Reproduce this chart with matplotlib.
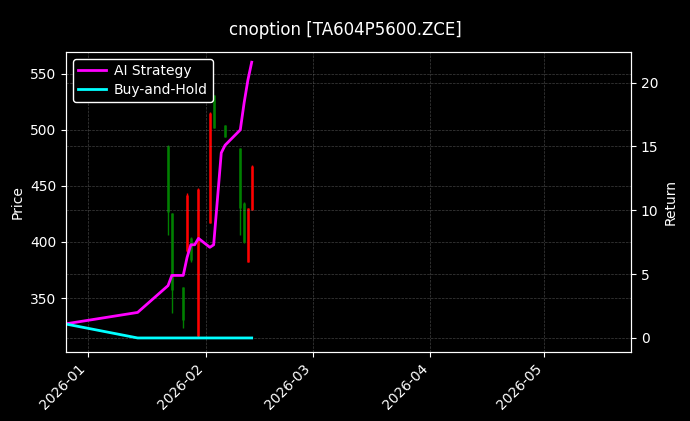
import matplotlib
matplotlib.use("Agg")
import matplotlib.pyplot as plt
import matplotlib.dates as mdates
import pandas as pd
import numpy as np

plt.style.use("dark_background")

candle_dates = ["2026-01-22","2026-01-23","2026-01-26","2026-01-27","2026-01-28","2026-01-30",
                "2026-02-02","2026-02-03","2026-02-06","2026-02-10","2026-02-11","2026-02-12","2026-02-13"]
opens  = [427, 357, 330, 442, 384, 447, 515, 502, 494, 430, 400, 430, 468]
closes = [486, 426, 360, 392, 404, 316, 417, 531, 504, 484, 435, 382, 429]
highs  = [486.6, 426, 360, 444, 404.5, 448, 516, 531, 504.5, 484, 435.7, 430, 468.8]
lows   = [406, 336.6, 323, 391, 382, 315, 417, 501.8, 493.8, 406, 399, 382, 428.6]

line_dates = ["2025-12-26","2026-01-14","2026-01-22","2026-01-23","2026-01-26","2026-01-27","2026-01-28",
              "2026-01-29","2026-01-30","2026-02-02","2026-02-03","2026-02-05","2026-02-06","2026-02-10",
              "2026-02-11","2026-02-12","2026-02-13"]
strategy = [1.1, 2.0, 4.1, 4.9, 4.9, 6.3, 7.3, 7.3, 7.8, 7.1, 7.3, 14.5, 15.1, 16.3, 18.4, 20.2, 21.6]
buyhold  = [1.1, 0, 0, 0, 0, 0, 0, 0, 0, 0, 0, 0, 0, 0, 0, 0, 0]

cd = pd.to_datetime(candle_dates)
ld = pd.to_datetime(line_dates)

fig = plt.figure(figsize=(6.9, 4.21), dpi=100, facecolor="black")
ax = fig.add_axes([66/690, 1-352/421, (631-66)/690, 300/421])
ax.set_facecolor("black")
for d, o, c, h, l in zip(cd, opens, closes, highs, lows):
    col = "green" if c >= o else "red"
    ax.vlines(d, l, h, color=col, linewidth=1)
    ax.vlines(d, min(o, c), max(o, c), color=col, linewidth=1.8)
ax.set_ylim(301.8, 569.6)
ax.set_ylabel("Price")
ax.grid(True, linestyle="--", linewidth=0.5, color="gray", alpha=0.5)

ax2 = ax.twinx()
ax2.plot(ld, strategy, color="magenta", linewidth=2, label="AI Strategy")
ax2.plot(ld, buyhold, color="cyan", linewidth=2, label="Buy-and-Hold")
ax2.set_ylim(-1.1, 22.4)
ax2.set_ylabel("Return")
ax2.grid(True, linestyle="--", linewidth=0.5, color="gray", alpha=0.5)
ax2.legend(loc="upper left", facecolor="black", edgecolor="white", framealpha=1,
           borderpad=0.35, handletextpad=0.6, labelspacing=0.4)

ax.set_xlim(pd.Timestamp("2025-12-26 04:00"), pd.Timestamp("2026-05-23 18:00"))
ax.xaxis.set_major_locator(mdates.MonthLocator())
ax.xaxis.set_major_formatter(mdates.DateFormatter("%Y-%m"))
plt.setp(ax.get_xticklabels(), rotation=45, ha="right")

fig.suptitle("cnoption [TA604P5600.ZCE]", y=0.95)
fig.savefig("out.png", dpi=100, facecolor="black")
